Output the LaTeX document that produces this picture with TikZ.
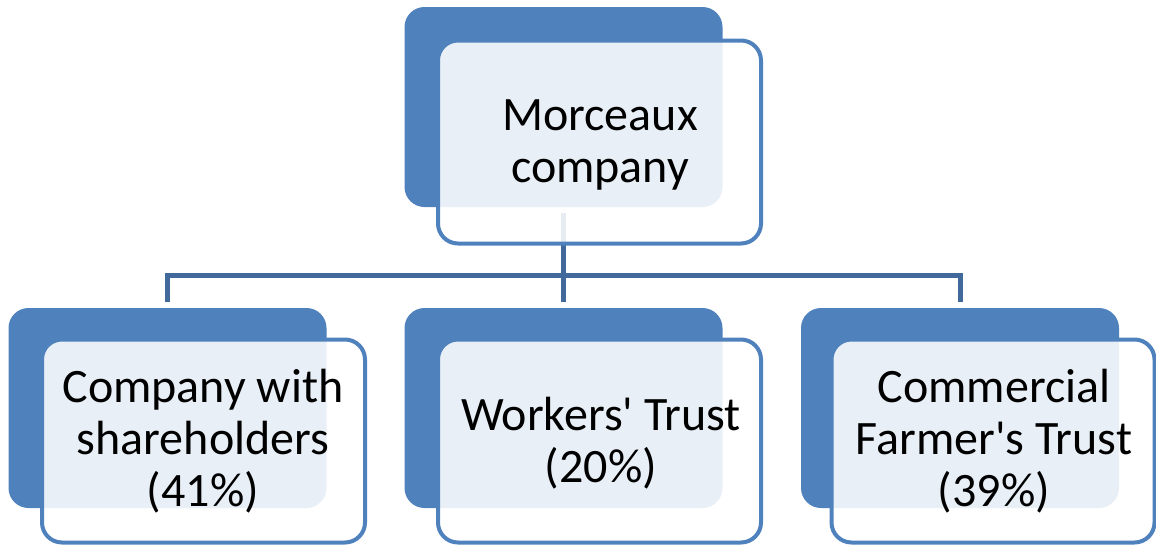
\documentclass[tikz,border=0pt]{standalone}
\usepackage{fontspec}
\setmainfont{Carlito}[Ligatures=TeXOff]
\definecolor{darkbox}{HTML}{4F81BD}
\definecolor{connc}{HTML}{41699C}
\tikzset{
  backbox/.style={rectangle, rounded corners=20pt, fill=darkbox, draw=none, inner sep=0pt, minimum width=318pt, minimum height=200pt},
  frontbox/.style={rectangle, rounded corners=20pt, fill=white, fill opacity=0.88, draw=darkbox, line width=4pt, inner sep=0pt, minimum width=323pt, minimum height=203pt},
  conn/.style={draw=connc, line width=5pt, shorten <=6pt, shorten >=6pt},
  lbl/.style={align=center, anchor=base, inner sep=0pt, font=\fontsize{48}{52}\selectfont, text=black}
}
\begin{document}
\begin{tikzpicture}[x=1pt,y=-1pt]
\useasboundingbox (0,0) rectangle (1156,544);
% back boxes
\node[backbox] (topback) at (563.5,107) {};
\node[backbox] (leftback) at (167.5,408) {};
\node[backbox] (midback) at (563.5,408) {};
\node[backbox] (rightback) at (960,408) {};
% connectors
\coordinate (bus) at (563.5,275);
\draw[conn] (topback.south) -- (midback.north);
\draw[conn] (leftback.north) |- (bus) -| (rightback.north);
% front boxes
\node[frontbox] (topfront) at (599.5,142) {};
\node[frontbox] (leftfront) at (203.5,441) {};
\node[frontbox] (midfront) at (599.5,441) {};
\node[frontbox] (rightfront) at (993,441) {};
% labels (anchor = baseline of last line)
\node[lbl] (toplbl) at (600,182) {Morceaux\\company};
\node[lbl] (leftlbl) at (203,506) {Company with\\shareholders\\(41\%)};
\node[lbl] (midlbl) at (601,482) {Workers\textquotesingle{} Trust\\(20\%)};
\node[lbl] (rightlbl) at (994,506) {Commercial\\Farmer\textquotesingle{}s Trust\\(39\%)};
\end{tikzpicture}
\end{document}
